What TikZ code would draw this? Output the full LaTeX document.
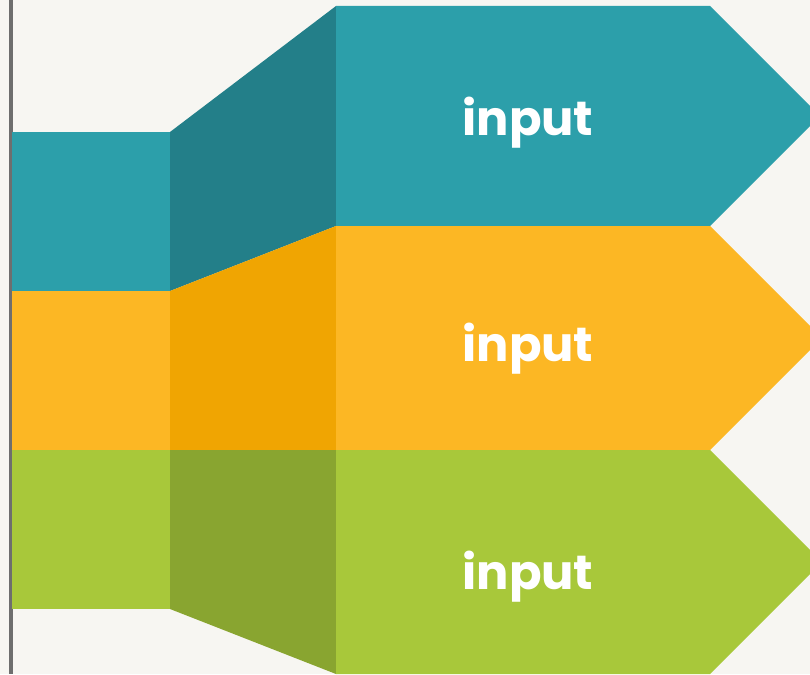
\documentclass[tikz,border=0pt]{standalone}
\usepackage{fontspec}
\setmainfont{Poppins}
\definecolor{bg}{HTML}{F7F6F2}
\definecolor{rule}{HTML}{6E6E6E}
\definecolor{teal1}{HTML}{2C9FAA}
\definecolor{teal2}{HTML}{237F89}
\definecolor{yel1}{HTML}{FCB724}
\definecolor{yel2}{HTML}{F0A502}
\definecolor{grn1}{HTML}{A8C83A}
\definecolor{grn2}{HTML}{89A530}
\tikzset{lbl/.style={text=white,font=\fontsize{48}{58}\selectfont\bfseries,anchor=base,inner sep=0pt}}
\begin{document}
\begin{tikzpicture}[x=1pt,y=-1pt]
\useasboundingbox (0,0) rectangle (810,674);
\fill[bg] (0,0) rectangle (810,674);
\clip (0,0) rectangle (810,674);
\fill[rule] (9,0) rectangle (12.5,674);
% left blocks
\fill[teal1] (12,132) rectangle (170,291);
\fill[yel1] (12,291) rectangle (170,450);
\fill[grn1] (12,450) rectangle (170,609);
% middle trapezoids
\fill[teal2] (170,132) -- (336,6) -- (336,226) -- (170,291) -- cycle;
\fill[yel2] (170,291) -- (336,226) -- (336,450) -- (170,450) -- cycle;
\fill[grn2] (170,450) -- (336,450) -- (336,674) -- (170,609) -- cycle;
% arrows
\fill[teal1] (336,6) -- (710,6) -- (820,116) -- (710,226) -- (336,226) -- cycle;
\fill[yel1] (336,226) -- (710,226) -- (822,338) -- (710,450) -- (336,450) -- cycle;
\fill[grn1] (336,450) -- (710,450) -- (822,562) -- (710,674) -- (336,674) -- cycle;
% labels
\node[lbl] (t1) at (528,135) {input};
\node[lbl] (t2) at (528,361) {input};
\node[lbl] (t3) at (528,589) {input};
\end{tikzpicture}
\end{document}
